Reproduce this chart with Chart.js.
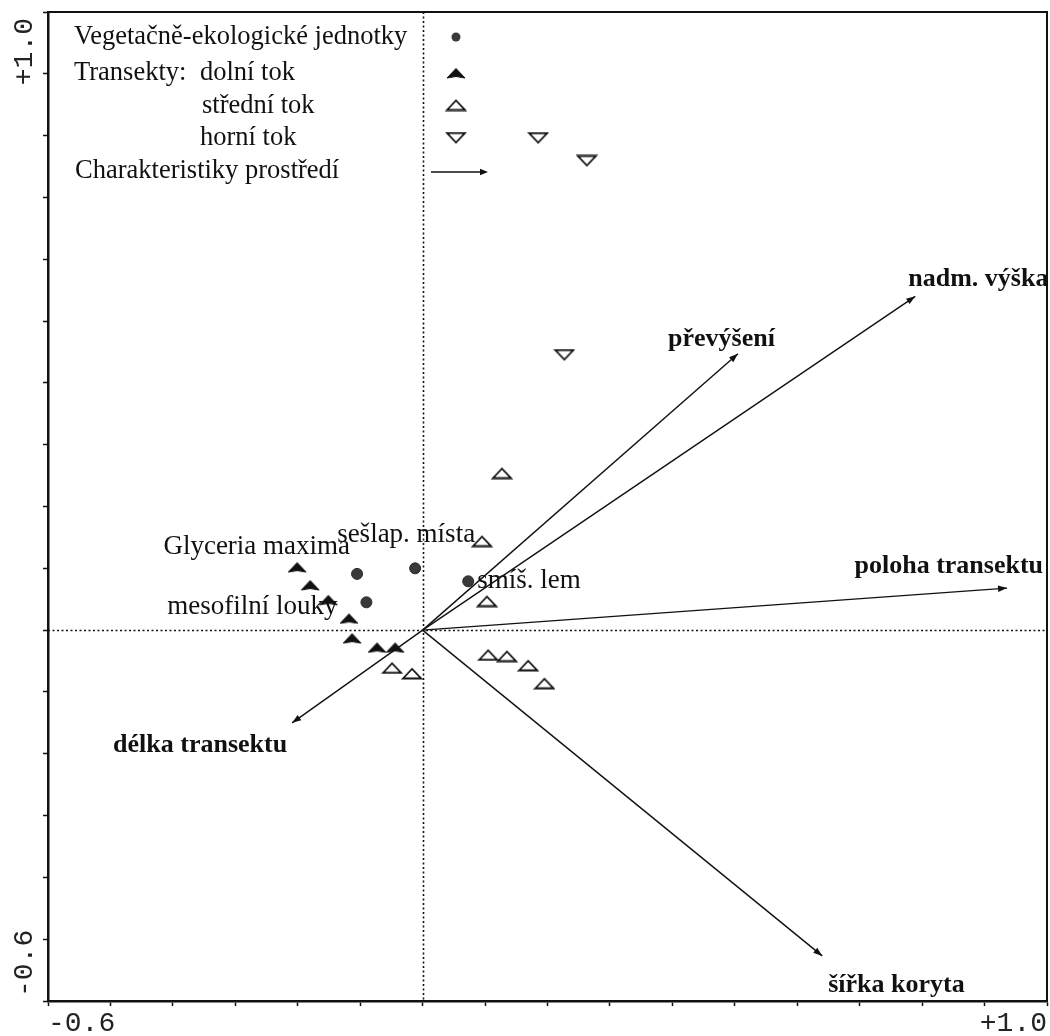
<!DOCTYPE html>
<html>
<head>
<meta charset="utf-8">
<script src="https://cdn.jsdelivr.net/npm/chart.js@4/dist/chart.umd.min.js"></script>
<style>
  html, body { margin: 0; padding: 0; background: #fff; }
  #wrap { width: 1050px; height: 1036px; }
</style>
</head>
<body>
<div id="wrap"><canvas id="c" width="1050" height="1036"></canvas></div>
<script>
// ---- axis extent (both axes share the same range) ----
const axisMin = -0.6;
const axisMax = 1.0;
const tickStep = 0.1;
const axisEndLabels = ['-0.6', '+1.0'];

// ---- vegetation-ecological units ----
const unitNames = ['Glyceria maxima', 'sešlap. místa', 'smíš. lem', 'mesofilní louky'];
const unitX = [-0.105, -0.012, 0.073, -0.090];
const unitY = [0.091, 0.100, 0.079, 0.045];

// ---- transects ----
const lowerX = [-0.201, -0.180, -0.151, -0.118, -0.113, -0.073, -0.044];
const lowerY = [0.102, 0.073, 0.049, 0.019, -0.013, -0.028, -0.028];
const middleX = [0.127, 0.095, 0.103, 0.105, 0.135, 0.169, 0.195, -0.049, -0.017];
const middleY = [0.254, 0.144, 0.047, -0.040, -0.042, -0.057, -0.086, -0.061, -0.070];
const upperX = [0.185, 0.263, 0.227];
const upperY = [0.796, 0.759, 0.445];

// ---- environmental variables (arrows from the origin) ----
const envNames = ['převýšení', 'nadm. výška', 'poloha transektu', 'šířka koryta', 'délka transektu'];
const envX = [0.505, 0.789, 0.936, 0.640, -0.209];
const envY = [0.447, 0.540, 0.068, -0.527, -0.150];

// ---- legend texts ----
const legendTitles = ['Vegetačně-ekologické jednotky', 'Transekty:', 'Charakteristiky prostředí'];
const transectNames = ['dolní tok', 'střední tok', 'horní tok'];

// label placement (pixel offsets from the mark, text alignment)
const unitLabelPlace = [
  { dx: -7, dy: -27, align: 'right' },
  { dx: -78, dy: -33, align: 'left' },
  { dx: 9, dy: 0, align: 'left' },
  { dx: -29, dy: 5, align: 'right' }
];
const envLabelPlace = [
  { dx: 37, dy: -15, align: 'right' },
  { dx: -7, dy: -17, align: 'left' },
  { dx: 36, dy: -22, align: 'right' },
  { dx: 6, dy: 29, align: 'left' },
  { dx: -5, dy: 22, align: 'right' }
];

const SERIF = '"Liberation Serif", "Times New Roman", serif';
const MONO = '"Liberation Mono", "DejaVu Sans Mono", monospace';

// ---- marker glyphs ----
function makeCanvas(w, h, draw) {
  const c = document.createElement('canvas');
  c.width = w; c.height = h;
  const g = c.getContext('2d');
  draw(g);
  return c;
}
const filledCaret = makeCanvas(20, 12, g => {
  g.fillStyle = '#111';
  g.strokeStyle = '#111';
  g.lineWidth = 1;
  g.lineJoin = 'round';
  g.beginPath();
  g.moveTo(1, 11);
  g.lineTo(10, 1.5);
  g.lineTo(19, 11);
  g.quadraticCurveTo(10, 8, 1, 11);
  g.closePath();
  g.fill();
  g.stroke();
});
const openUp = makeCanvas(22, 13, g => {
  g.strokeStyle = '#111';
  g.lineWidth = 1.8;
  g.beginPath();
  g.moveTo(2, 11.5);
  g.lineTo(11, 2);
  g.lineTo(20, 11.5);
  g.closePath();
  g.stroke();
});
const openDown = makeCanvas(22, 13, g => {
  g.strokeStyle = '#111';
  g.lineWidth = 1.8;
  g.beginPath();
  g.moveTo(2, 1.5);
  g.lineTo(20, 1.5);
  g.lineTo(11, 11);
  g.closePath();
  g.stroke();
});

const toPts = (xs, ys) => xs.map((x, i) => ({ x, y: ys[i] }));

const pointDatasets = [
  { label: legendTitles[0], data: toPts(unitX, unitY), pointStyle: 'circle', pointRadius: 5.5,
    backgroundColor: '#3a3a3a', borderColor: '#2a2a2a', borderWidth: 1, showLine: false },
  { label: transectNames[0], data: toPts(lowerX, lowerY), pointStyle: filledCaret, pointRadius: 8, showLine: false },
  { label: transectNames[1], data: toPts(middleX, middleY), pointStyle: openUp, pointRadius: 8, showLine: false },
  { label: transectNames[2], data: toPts(upperX, upperY), pointStyle: openDown, pointRadius: 8, showLine: false }
];
const arrowDatasets = envNames.map((name, i) => ({
  label: name,
  data: [{ x: 0, y: 0 }, { x: envX[i], y: envY[i] }],
  showLine: true, borderColor: '#111', borderWidth: 1.4, pointRadius: 0, fill: false,
  kind: 'arrow'
}));

function arrowHead(ctx, x0, y0, x1, y1, len, half) {
  const a = Math.atan2(y1 - y0, x1 - x0);
  ctx.save();
  ctx.translate(x1, y1);
  ctx.rotate(a);
  ctx.fillStyle = '#111';
  ctx.beginPath();
  ctx.moveTo(0, 0);
  ctx.lineTo(-len, -half);
  ctx.lineTo(-len, half);
  ctx.closePath();
  ctx.fill();
  ctx.restore();
}

const ordinationDecor = {
  id: 'ordinationDecor',
  beforeDatasetsDraw(chart) {
    const { ctx, chartArea: a, scales: { x, y } } = chart;
    const x0 = Math.round(x.getPixelForValue(0)) + 0.5;
    const y0 = Math.round(y.getPixelForValue(0)) + 0.5;
    ctx.save();
    ctx.strokeStyle = '#111';
    ctx.lineWidth = 1.6;
    ctx.setLineDash([2, 2.5]);
    ctx.beginPath();
    ctx.moveTo(x0, a.top); ctx.lineTo(x0, a.bottom);
    ctx.moveTo(a.left, y0); ctx.lineTo(a.right, y0);
    ctx.stroke();
    ctx.restore();
  },
  afterDatasetsDraw(chart) {
    const { ctx } = chart;

    // arrow heads and variable names
    chart.data.datasets.forEach((ds, di) => {
      if (ds.kind !== 'arrow') return;
      const pts = chart.getDatasetMeta(di).data;
      arrowHead(ctx, pts[0].x, pts[0].y, pts[1].x, pts[1].y, 9, 3.2);
    });
    ctx.save();
    ctx.fillStyle = '#111';
    ctx.textBaseline = 'middle';
    ctx.font = 'bold 26px ' + SERIF;
    const arrowMetaStart = pointDatasets.length;
    envNames.forEach((name, i) => {
      const p = chart.getDatasetMeta(arrowMetaStart + i).data[1];
      const pl = envLabelPlace[i];
      ctx.textAlign = pl.align;
      ctx.fillText(name, p.x + pl.dx, p.y + pl.dy);
    });

    // unit names
    ctx.font = '27px ' + SERIF;
    const unitPts = chart.getDatasetMeta(0).data;
    unitNames.forEach((name, i) => {
      const p = unitPts[i];
      const pl = unitLabelPlace[i];
      ctx.textAlign = pl.align;
      ctx.fillText(name, p.x + pl.dx, p.y + pl.dy);
    });

    // legend block
    ctx.font = '26.5px ' + SERIF;
    ctx.textAlign = 'left';
    ctx.fillText(legendTitles[0], 74, 37);
    ctx.fillText(legendTitles[1], 74, 73);
    ctx.fillText(transectNames[0], 200, 73);
    ctx.fillText(transectNames[1], 202, 106);
    ctx.fillText(transectNames[2], 200, 138);
    ctx.fillText(legendTitles[2], 75, 171);
    const mx = 456;
    ctx.fillStyle = '#3a3a3a';
    ctx.beginPath(); ctx.arc(mx, 37, 4.5, 0, Math.PI * 2); ctx.fill();
    ctx.drawImage(filledCaret, mx - 10, 73 - 6);
    ctx.drawImage(openUp, mx - 11, 105 - 6.5);
    ctx.drawImage(openDown, mx - 11, 138 - 6.5);
    ctx.strokeStyle = '#111';
    ctx.lineWidth = 1.4;
    ctx.beginPath(); ctx.moveTo(431, 172); ctx.lineTo(483, 172); ctx.stroke();
    arrowHead(ctx, 431, 172, 488, 172, 8, 3.2);
    ctx.restore();
  },
  afterDraw(chart) {
    const { ctx, chartArea: a } = chart;
    ctx.save();
    // top and right frame
    ctx.strokeStyle = '#111';
    ctx.lineWidth = 2;
    ctx.beginPath();
    ctx.moveTo(a.left, a.top); ctx.lineTo(a.right, a.top); ctx.lineTo(a.right, a.bottom);
    ctx.stroke();

    // axis end values
    ctx.fillStyle = '#222';
    ctx.font = '28px ' + MONO;
    ctx.textBaseline = 'middle';
    ctx.textAlign = 'left';
    ctx.fillText(axisEndLabels[0], a.left, a.bottom + 23);
    ctx.textAlign = 'right';
    ctx.fillText(axisEndLabels[1], a.right, a.bottom + 23);
    // vertical axis, rotated
    ctx.save();
    ctx.translate(a.left - 23, a.top + 6);
    ctx.rotate(-Math.PI / 2);
    ctx.textAlign = 'right';
    ctx.fillText(axisEndLabels[1], 0, 0);
    ctx.restore();
    ctx.save();
    ctx.translate(a.left - 23, a.bottom - 4);
    ctx.rotate(-Math.PI / 2);
    ctx.textAlign = 'left';
    ctx.fillText(axisEndLabels[0], 0, 0);
    ctx.restore();
    ctx.restore();
  }
};

const axisCommon = {
  type: 'linear',
  min: axisMin,
  max: axisMax,
  ticks: { display: false, stepSize: tickStep },
  grid: { drawOnChartArea: false, drawTicks: true, tickLength: 5, tickColor: '#111', tickWidth: 1.5 },
  border: { display: true, color: '#111', width: 2.5 }
};

new Chart(document.getElementById('c'), {
  type: 'scatter',
  data: { datasets: [...pointDatasets, ...arrowDatasets] },
  options: {
    responsive: false,
    animation: false,
    devicePixelRatio: 1,
    layout: { autoPadding: false, padding: { left: 43, top: 12, right: 3, bottom: 30 } },
    plugins: { legend: { display: false }, tooltip: { enabled: false } },
    elements: { line: { tension: 0 } },
    scales: {
      x: { ...axisCommon, position: 'bottom' },
      y: { ...axisCommon, position: 'left' }
    }
  },
  plugins: [ordinationDecor]
});
</script>
</body>
</html>
